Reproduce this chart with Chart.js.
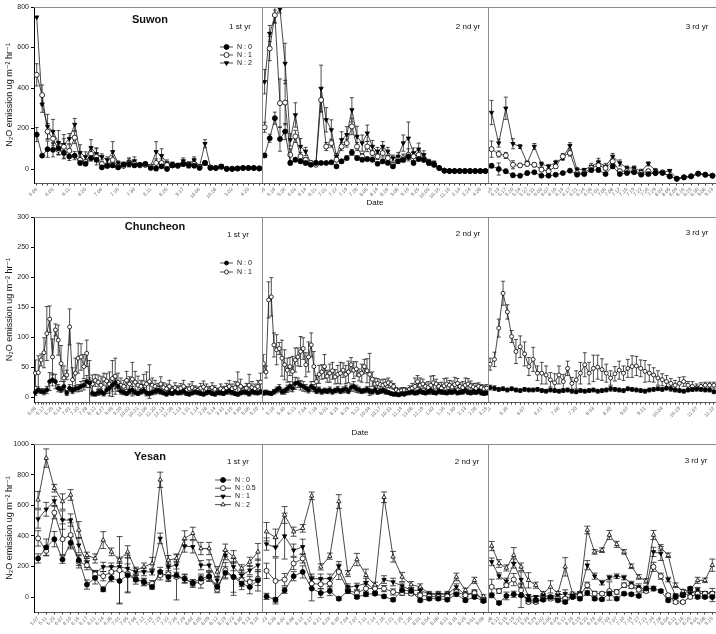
<!DOCTYPE html>
<html>
<head>
<meta charset="utf-8">
<script src="https://cdn.jsdelivr.net/npm/chart.js@4.4.0/dist/chart.umd.min.js"></script>
<style>
  body { margin: 0; background: #fff; }
  #wrap { position: relative; width: 716px; height: 634px; overflow: hidden; }
  canvas { position: absolute; }
</style>
</head>
<body>
<div id="wrap"></div>
<script>
// ---- Suwon (3 treatments) ----
var suwon1Dates = ['5.06','6.03','6.11','6.20','7.06','7.16','7.30','8.11','8.25','9.17','10.06','10.28','3.02','4.20'];
var suwon1N0 = [170,66,98,95,103,79,62,66,30,26, 54,46,8,16,18,8,21,25,18,21, 25,5,2,13,0,18,18,25,18,16, 5,30,5,5,13,0,0,2,5,5, 5,3];
var suwon1N1 = [465,365,185,150,95,110,90,155,45,35, 75,60,25,15,45,12,15,30,25,18, 20,12,30,30,20,18,15,25,20,25, 10,30,8,5,10,2,2,3,5,5, 5,3];
var suwon1N2 = [750,320,210,185,130,120,150,220,80,60, 105,75,60,45,85,30,25,35,40,20, 25,15,85,65,30,25,20,40,25,45, 15,125,10,5,15,2,2,3,5,5, 5,3];
var suwon1N0err = [35,0,40,35,30,25,20,20,10,10, 15,10,5,5,10,5,5,10,5,5, 5,3,10,5,5,5,5,5,5,5, 3,5,3,3,3,0,0,0,0,0, 0,0];
var suwon1N1err = [55,50,40,35,25,60,30,30,15,10, 20,40,10,5,20,5,5,20,10,5, 5,5,20,20,10,10,5,10,15,15, 5,10,3,3,5,0,0,0,0,0, 0,0];
var suwon1N2err = [0,40,60,60,60,30,25,30,40,25, 40,30,15,15,50,10,10,20,20,5, 10,5,50,35,15,10,5,15,10,15, 5,20,5,3,5,0,0,0,0,0, 0,0];

var suwon2Dates = ['5.06','5.16','5.26','6.03','6.14','6.21','7.01','7.12','7.19','7.28','8.05','8.14','8.26','9.06','9.16','9.25','10.03','10.16','11.15','2.14','3.24','4.28'];
var suwon2N0 = [67,152,251,148,185,30,46,38,30,21, 30,30,30,33,13,38,54,82,54,46, 49,46,26,38,30,13,38,46,62,30, 49,46,30,21,5,-8,-10,-10,-10,-10, -10,-10,-10,-10];
var suwon2N1 = [206,595,760,325,328,70,161,62,46,30, 21,341,111,128,46,111,128,210,111,62, 111,79,62,79,54,21,46,54,70,62, 70,49,30,21,5,-8,-10,-10,-10,-10, -10,-10,-10,-10];
var suwon2N2 = [431,669,755,790,521,144,267,111,87,30, 30,398,243,193,62,144,169,292,161,128, 177,111,87,111,87,54,62,128,152,79, 98,70,38,30,5,-8,-10,-10,-10,-10, -10,-10,-10,-10];
var suwon2N0err = [10,20,30,60,40,10,10,10,10,5, 5,5,5,5,5,10,10,15,10,10, 10,10,5,10,5,5,10,10,15,10, 10,10,5,5,3,3,3,3,3,3, 3,3,3,3];
var suwon2N1err = [25,60,40,120,110,30,30,20,10,10, 5,60,20,20,10,20,20,40,20,15, 25,15,15,20,15,5,15,20,30,20, 20,15,10,5,3,3,3,3,3,3, 3,3,3,3];
var suwon2N2err = [60,40,30,20,100,30,60,40,20,10, 10,115,60,50,15,40,40,60,50,40, 40,30,20,25,20,15,20,40,80,25, 30,20,10,10,5,3,3,3,3,3, 3,3,3,3];

var suwon3Dates = ['5.10','5.13','5.17','5.20','5.24','5.27','5.31','6.03','6.07','6.10','6.14','6.17','6.21','6.24','6.28','7.01','7.05','7.08','7.12','7.15','7.19','7.22','7.26','7.29','8.02','8.05','8.09','8.16','8.23','8.30','9.06','9.13'];
var suwon3N0 = [16,0,-11,-31,-33,-20,-16,-33,-33,-28, -20,-8,-28,-25,-5,-5,-25,13,-25,-20, -16,-28,-25,-20,-20,-36,-48,-41,-36,-23, -28,-33];
var suwon3N1 = [98,74,67,21,18,25,21,-3,-11,13, 62,79,-20,-20,5,18,5,38,-11,-11, -11,-20,-11,-20,-16,-36,-48,-41,-36,-23, -28,-33];
var suwon3N2 = [279,128,300,125,111,30,111,25,13,33, 54,115,-3,-3,13,33,13,62,30,5, 5,-11,26,-7,-16,-8,-48,-41,-36,-23, -28,-33];
var suwon3N0err = [10,30,10,10,5,10,5,5,5,5, 5,5,5,5,10,10,5,10,5,5, 5,5,5,5,5,5,5,5,5,5, 5,5];
var suwon3N1err = [40,15,15,20,10,10,10,10,10,10, 15,15,5,5,10,25,10,10,10,10, 10,5,10,5,5,5,5,5,5,5, 5,5];
var suwon3N2err = [60,20,55,25,10,10,15,10,10,10, 10,15,10,5,15,20,15,15,15,10, 10,10,10,10,5,5,5,5,5,5, 5,5];

// ---- Chuncheon (2 treatments) ----
var chun1Dates = ['5.08','5.17','5.25','6.14','7.01','7.10','7.28','8.12','8.27','9.05','9.20','10.02','10.21','11.06','11.20','12.13','12.28','1.13','1.31','2.14','2.28','3.14','3.31','4.15','4.30','5.06','5.20'];
var chun1N0 = [8,12,10,9,12,26,29,26,15,13, 18,7,15,11,14,15,18,20,26,24, 6,5,8,9,6,12,15,20,24,18, 10,8,6,10,12,8,6,9,11,7, 6,8,10,12,9,7,5,8,6,9, 7,8,10,6,5,7,9,8,6,5, 7,9,6,5,8,7,6,9,10,8, 6,5,7,9,8,6,10,8,7,9];
var chun1N1 = [40,41,62,74,106,130,67,112,95,56, 32,37,117,29,40,65,67,51,73,26, 22,28,25,20,30,27,22,31,35,25, 20,18,28,22,30,25,20,18,24,22, 26,20,18,15,22,16,14,18,12,16, 13,15,18,12,14,16,13,11,15,17, 14,12,16,13,10,14,12,15,18,14, 16,22,18,12,15,20,16,14,18,25];
var chun1N0err = [5,5,4,5,6,15,10,12,6,5, 8,4,6,5,5,6,8,8,10,8, 4,3,5,5,4,6,8,10,10,8, 5,4,3,5,6,4,3,4,5,3, 3,4,5,6,4,3,3,4,3,4, 3,4,5,3,3,3,4,4,3,3, 3,4,3,3,4,3,3,4,5,4, 3,3,3,4,4,3,5,4,3,4];
var chun1N1err = [22,28,10,25,45,22,30,10,25,30, 20,8,30,20,25,25,22,20,22,35, 15,10,12,15,10,12,20,30,30,15, 12,10,15,12,28,18,15,10,14,20, 28,12,10,8,12,8,8,10,6,8, 6,8,10,6,8,10,6,6,8,10, 8,6,8,6,5,8,6,8,10,8, 10,20,12,6,8,18,10,8,10,15];

var chun2Dates = ['5.03','5.16','5.30','6.13','7.04','7.18','8.01','8.15','8.29','9.12','10.04','10.17','10.31','11.14','12.08','12.19','1.02','1.16','1.30','2.13','2.28','3.15'];
var chun2N0 = [7,8,7,6,9,12,15,9,10,14, 18,15,23,24,20,18,15,12,18,15, 10,12,9,11,10,12,9,11,13,10, 12,14,10,16,18,14,12,10,11,13, 10,9,12,8,10,11,9,8,6,5, 5,4,6,5,7,8,9,7,8,10, 8,7,9,11,8,7,10,9,8,7, 9,8,10,7,8,9,11,8,7,9, 8,10,7,6,7];
var chun2N1 = [56,42,162,167,87,79,81,65,54,45, 51,43,62,67,76,81,54,67,87,51, 26,38,42,51,35,40,44,34,38,40, 45,38,42,54,45,47,37,40,51,44, 38,30,22,23,21,20,22,24,21,18, 12,10,11,12,10,13,15,18,26,20, 22,18,16,20,24,22,18,15,19,22, 20,17,21,23,18,16,20,22,19,17, 15,18,16,14,15];
var chun2N0err = [4,4,3,3,4,5,6,4,5,6, 8,6,10,8,8,8,6,5,8,6, 4,5,4,4,4,5,4,4,5,4, 5,6,4,6,8,6,5,4,4,5, 4,4,5,3,4,4,4,3,3,3, 3,3,3,3,3,4,4,3,4,4, 3,3,4,4,3,3,4,4,3,3, 4,3,4,3,3,4,4,3,3,4, 3,4,3,3,3];
var chun2N1err = [15,10,30,32,20,25,10,30,25,20, 15,25,20,15,25,18,20,25,20,25, 10,15,12,20,10,15,14,12,15,18, 12,15,18,12,14,12,10,15,12,20, 35,12,10,8,8,10,8,8,6,5, 4,4,5,4,5,6,8,14,10,12, 8,6,10,15,12,8,6,10,12,10, 8,10,12,8,6,10,12,9,8,6, 8,6,5,6,6];

var chun3Dates = ['5.11','5.26','6.07','6.21','7.06','7.20','8.03','8.20','9.07','9.21','10.04','10.19','11.07','11.22'];
var chun3N0 = [16,15,13,14,12,14,12,11,13,12, 12,13,11,10,12,11,10,11,12,10, 9,11,10,11,12,10,11,12,14,13, 12,11,14,13,12,11,10,12,13,14, 13,15,14,12,11,10,12,13,14,13, 12,12,9];
var chun3N1 = [55,63,115,173,142,101,76,84,72,51, 63,40,40,37,29,24,37,26,48,23, 29,40,54,40,48,50,46,40,32,39, 45,40,48,51,52,48,43,40,37,32, 29,26,23,20,23,26,20,18,16,18, 20,20,20];
var chun3N0err = [4,4,3,3,3,3,3,3,3,3, 3,3,3,3,3,3,3,3,3,3, 3,3,3,3,3,3,3,3,4,3, 3,3,3,3,3,3,3,3,3,3, 3,3,4,3,3,3,3,3,3,3, 3,3,3];
var chun3N1err = [10,12,15,20,12,10,20,18,20,15, 20,12,18,15,12,15,15,12,12,10, 15,18,20,18,22,20,18,15,12,12, 15,12,15,18,16,14,18,14,12,12, 10,10,8,8,10,8,6,8,6,6, 5,5,5];

// ---- Yesan (4 treatments) ----
var yesan1Dates = ['5.07','5.11','5.23','6.07','6.10','6.15','6.17','6.21','6.24','6.28','7.01','7.05','7.08','7.12','7.15','7.19','7.22','7.26','7.29','8.02','8.05','8.09','8.12','8.19','8.23','8.30','9.13','9.16'];
var yesan1N0 = [252,324,378,245,354,241,81,125,50,125, 105,142,114,98,66,164,131,142,120,92, 120,136,66,158,131,88,66,109];
var yesan1N05 = [383,302,551,378,405,230,208,149,136,164, 175,153,120,98,88,142,149,131,120,88, 98,131,48,175,131,109,98,120];
var yesan1N1 = [510,573,628,503,503,339,223,153,197,197, 197,186,164,164,164,383,197,208,333,328, 208,208,109,273,197,142,175,208];
var yesan1N2 = [635,908,711,624,667,438,273,252,372,295, 241,295,175,197,219,766,241,252,383,416, 317,317,164,306,263,186,230,295];
var yesan1N0err = [30,55,50,25,40,35,30,40,15,25, 145,115,30,20,15,30,30,20,25,20, 30,30,25,40,120,40,45,70];
var yesan1N05err = [50,30,40,100,80,40,30,25,30,35, 220,120,20,25,20,30,40,150,30,25, 40,30,20,50,100,40,35,45];
var yesan1N1err = [60,45,30,60,40,50,30,20,30,25, 25,30,20,25,20,35,25,25,40,40, 30,35,25,30,25,30,30,40];
var yesan1N2err = [55,60,25,50,35,55,20,30,55,25, 20,40,20,25,40,50,30,25,50,40, 40,40,35,40,40,25,30,55];

var yesan2Dates = ['5.23','5.28','6.02','6.08','6.12','6.17','6.21','6.26','6.30','7.04','7.07','7.11','7.14','7.18','7.21','7.25','7.28','8.01','8.04','8.08','8.11','8.18','8.25','9.01','9.08'];
var yesan2N0 = [4,-18,44,136,164,55,26,39,-11,39, 0,18,22,4,-18,44,39,-22,-11,-11, -18,18,-22,0,-26];
var yesan2N05 = [171,105,114,219,252,88,83,88,164,44, 26,55,55,55,33,26,22,11,4,0, 4,33,11,26,-22];
var yesan2N1 = [346,324,398,306,328,120,120,120,201,66, 70,92,44,114,98,72,44,44,18,18, 18,66,11,33,-18];
var yesan2N2 = [427,389,536,427,449,661,197,267,624,153, 245,142,77,652,263,131,81,66,22,22, 22,131,44,109,4];
var yesan2N0err = [20,15,20,30,40,80,30,30,10,15, 10,15,10,10,10,20,20,10,10,10, 10,10,10,10,10];
var yesan2N05err = [50,150,40,40,30,30,30,30,50,20, 15,25,20,20,20,15,10,10,10,10, 10,15,10,10,10];
var yesan2N1err = [40,60,150,40,50,30,30,30,30,20, 20,30,15,25,25,20,15,15,10,10, 10,20,10,15,10];
var yesan2N2err = [60,55,55,30,25,25,20,20,45,20, 40,40,20,35,35,30,20,20,15,15, 15,25,15,20,10];

var yesan3Dates = ['5.08','5.12','5.15','5.19','5.22','5.26','5.29','6.02','6.05','6.09','6.12','6.16','6.19','6.23','6.26','6.30','7.03','7.07','7.10','7.14','7.17','7.21','7.24','7.28','8.04','8.11','8.18','8.25','9.01','9.08','9.15'];
var yesan3N0 = [11,-39,7,18,11,-18,-22,-18,0,-22, -33,0,-11,26,-11,-15,22,-11,22,18, 7,55,55,39,-22,0,11,55,0,0, 0];
var yesan3N05 = [66,39,77,114,44,-33,-33,-11,-11,-11, -11,0,11,77,22,22,39,33,77,70, 48,39,197,136,11,-33,-33,0,22,22, 22];
var yesan3N1 = [230,138,103,219,114,7,0,11,0,11, 22,11,22,208,136,94,127,136,127,88, 66,44,295,284,114,11,15,22,48,26, 26];
var yesan3N2 = [333,219,190,273,197,109,77,22,66,26, 197,22,26,438,295,306,405,344,295,201, 131,105,405,322,273,77,39,48,109,109, 208];
var yesan3N0err = [15,10,25,20,80,10,10,10,10,10, 10,10,10,15,10,10,10,10,10,10, 10,15,15,10,10,10,10,10,10,10, 30];
var yesan3N05err = [50,15,15,40,40,10,10,10,10,10, 10,10,10,20,15,10,60,15,15,15, 15,10,30,20,10,10,10,10,10,10, 10];
var yesan3N1err = [25,20,20,30,50,10,10,10,10,10, 25,10,10,30,20,15,15,15,15,15, 20,15,30,45,15,10,10,10,15,10, 30];
var yesan3N2err = [30,25,20,50,25,50,20,15,40,10, 60,10,10,25,15,15,30,20,15,15, 15,15,30,20,15,15,10,15,20,15, 40];

var suwonTicks = [0, 200, 400, 600, 800];
var chunTicks = [0, 50, 100, 150, 200, 250, 300];
var yesanTicks = [0, 200, 400, 600, 800, 1000];
var yTitle = 'N\u2082O emission ug m\u207B\u00B2 hr\u207B\u00B9';

Chart.defaults.font.family = '"Liberation Sans", Arial, "DejaVu Sans", sans-serif';
Chart.defaults.color = '#222';

// marker looks
var dot = { style: 'circle', fill: '#000', rot: 0 };
var ring = { style: 'circle', fill: '#fff', rot: 0 };
var downTri = { style: 'triangle', fill: '#000', rot: 180 };
var upTri = { style: 'triangle', fill: '#fff', rot: 0 };

// error bars drawn behind lines/markers
var errorBars = {
  id: 'errorBars',
  beforeDatasetsDraw(chart) {
    var ctx = chart.ctx, a = chart.chartArea, y = chart.scales.y;
    var cap = chart.canvas.decor.cap;
    ctx.save();
    ctx.beginPath();
    ctx.rect(a.left, a.top, a.right - a.left, a.bottom - a.top);
    ctx.clip();
    ctx.strokeStyle = '#222';
    ctx.lineWidth = 0.8;
    chart.data.datasets.forEach(function (ds, k) {
      if (!ds.errors) return;
      var meta = chart.getDatasetMeta(k);
      meta.data.forEach(function (pt, i) {
        var e = ds.errors[i];
        if (!e) return;
        var v = ds.data[i];
        var y1 = y.getPixelForValue(v + e), y2 = y.getPixelForValue(v - e);
        ctx.beginPath();
        ctx.moveTo(pt.x, y1); ctx.lineTo(pt.x, y2);
        ctx.moveTo(pt.x - cap, y1); ctx.lineTo(pt.x + cap, y1);
        ctx.moveTo(pt.x - cap, y2); ctx.lineTo(pt.x + cap, y2);
        ctx.stroke();
      });
    });
    ctx.restore();
  }
};

// frame lines, panel texts and the in-plot legend
var frame = {
  id: 'frame',
  afterDraw(chart) {
    var ctx = chart.ctx, a = chart.chartArea, d = chart.canvas.decor;
    ctx.save();
    ctx.strokeStyle = '#8c8c8c';
    ctx.lineWidth = 1;
    ctx.beginPath();
    ctx.moveTo(a.left, a.top + 0.5); ctx.lineTo(a.right, a.top + 0.5);
    if (d.divider) { ctx.moveTo(a.left + 0.5, a.top); ctx.lineTo(a.left + 0.5, a.bottom); }
    ctx.stroke();

    ctx.textBaseline = 'middle';
    ctx.fillStyle = '#111';
    d.texts.forEach(function (t) {
      ctx.font = t.font;
      ctx.textAlign = 'center';
      ctx.fillText(t.text, t.x, t.y);
    });

    if (d.legend) {
      var L = d.legend;
      chart.data.datasets.forEach(function (ds, k) {
        var yy = L.y + k * L.dy;
        ctx.strokeStyle = '#222';
        ctx.lineWidth = 0.8;
        ctx.beginPath(); ctx.moveTo(L.x1, yy); ctx.lineTo(L.x2, yy); ctx.stroke();
        ctx.fillStyle = ds.pointBackgroundColor;
        ctx.strokeStyle = '#000';
        Chart.helpers.drawPoint(ctx, { pointStyle: ds.pointStyle, radius: ds.pointRadius, rotation: ds.pointRotation, borderWidth: 0.8 }, (L.x1 + L.x2) / 2, yy);
        ctx.fillStyle = '#111';
        ctx.font = '7px "Liberation Sans", Arial, sans-serif';
        ctx.textAlign = 'left';
        ctx.fillText(ds.label, L.tx, yy);
      });
    }
    ctx.restore();
  }
};

function makePanel(p) {
  var c = document.createElement('canvas');
  c.width = p.w; c.height = p.h;
  c.style.left = p.x + 'px';
  c.style.top = p.top + 'px';
  c.decor = { cap: p.cap, divider: !p.first, texts: p.texts || [], legend: p.legend };
  document.getElementById('wrap').appendChild(c);

  var n = p.series[0].data.length;
  var labels = [];
  for (var i = 0; i < n; i++) labels.push(i % p.every === 0 ? (p.dates[i / p.every] || '') : '');

  var datasets = p.series.map(function (s) {
    return {
      label: s.label, data: s.data, errors: s.err,
      borderColor: '#1a1a1a', borderWidth: 0.8, tension: 0,
      pointStyle: s.mk.style, pointRotation: s.mk.rot, pointRadius: p.r,
      pointBackgroundColor: s.mk.fill, pointBorderColor: '#000', pointBorderWidth: 0.8
    };
  });

  new Chart(c, {
    type: 'line',
    data: { labels: labels, datasets: datasets },
    options: {
      responsive: false,
      animation: false,
      layout: { autoPadding: false, padding: { top: 7, left: 0, right: 0, bottom: 0 } },
      plugins: { legend: { display: false }, tooltip: { enabled: false } },
      scales: {
        x: {
          offset: true,
          afterFit: function (s) { s.height = p.axisH; s.paddingLeft = 0; s.paddingRight = 0; },
          grid: { drawOnChartArea: false, tickLength: 2.5, color: '#444' },
          border: { color: '#555', width: 1 },
          ticks: { autoSkip: false, minRotation: 45, maxRotation: 45, font: { size: 5 }, color: '#666', padding: 1 }
        },
        y: {
          display: p.first,
          min: p.yMin, max: p.yMax,
          afterBuildTicks: function (s) { s.ticks = p.yTicks.map(function (v) { return { value: v }; }); },
          afterFit: function (s) { s.width = p.first ? 34 : 0; s.paddingTop = 0; s.paddingBottom = 0; },
          grid: { drawOnChartArea: false, tickLength: 3, color: '#000' },
          border: { color: '#000', width: 1 },
          ticks: { font: { size: 7 }, color: '#222', padding: 2, callback: function (v) { return String(v); } },
          title: { display: true, text: yTitle, font: { size: 9 }, color: '#111', padding: { top: 4, bottom: 0 } }
        }
      }
    },
    plugins: [errorBars, frame]
  });
}

var titleFont = 'bold 11px "Liberation Sans", Arial, sans-serif';
var yrFont = '8px "Liberation Sans", Arial, sans-serif';

// row 1: Suwon
var r1 = { top: 0, h: 215, axisH: 32, yMin: -69, yMax: 800, yTicks: suwonTicks, r: 2.5, cap: 2 };
makePanel(Object.assign({}, r1, { x: 0, w: 262, first: true, dates: suwon1Dates, every: 3,
  series: [{ label: 'N : 0', data: suwon1N0, err: suwon1N0err, mk: dot },
           { label: 'N : 1', data: suwon1N1, err: suwon1N1err, mk: ring },
           { label: 'N : 2', data: suwon1N2, err: suwon1N2err, mk: downTri }],
  texts: [{ text: 'Suwon', x: 150, y: 20, font: titleFont }, { text: '1 st yr', x: 240, y: 27, font: yrFont }],
  legend: { x1: 220, x2: 233, tx: 237, y: 47, dy: 8 } }));
makePanel(Object.assign({}, r1, { x: 262, w: 226, first: false, dates: suwon2Dates, every: 2,
  series: [{ label: 'N : 0', data: suwon2N0, err: suwon2N0err, mk: dot },
           { label: 'N : 1', data: suwon2N1, err: suwon2N1err, mk: ring },
           { label: 'N : 2', data: suwon2N2, err: suwon2N2err, mk: downTri }],
  texts: [{ text: '2 nd yr', x: 206, y: 27, font: yrFont }, { text: 'Date', x: 113, y: 203, font: yrFont }] }));
makePanel(Object.assign({}, r1, { x: 488, w: 228, first: false, dates: suwon3Dates, every: 1,
  series: [{ label: 'N : 0', data: suwon3N0, err: suwon3N0err, mk: dot },
           { label: 'N : 1', data: suwon3N1, err: suwon3N1err, mk: ring },
           { label: 'N : 2', data: suwon3N2, err: suwon3N2err, mk: downTri }],
  texts: [{ text: '3 rd yr', x: 209, y: 27, font: yrFont }] }));

// row 2: Chuncheon
var r2 = { top: 210, h: 230, axisH: 38, yMin: -8, yMax: 300, yTicks: chunTicks, r: 2, cap: 2 };
makePanel(Object.assign({}, r2, { x: 0, w: 262, first: true, dates: chun1Dates, every: 3,
  series: [{ label: 'N : 0', data: chun1N0, err: chun1N0err, mk: dot },
           { label: 'N : 1', data: chun1N1, err: chun1N1err, mk: ring }],
  texts: [{ text: 'Chuncheon', x: 155, y: 17, font: titleFont }, { text: '1 st yr', x: 238, y: 25, font: yrFont }],
  legend: { x1: 220, x2: 233, tx: 237, y: 53, dy: 9 } }));
makePanel(Object.assign({}, r2, { x: 262, w: 226, first: false, dates: chun2Dates, every: 4,
  series: [{ label: 'N : 0', data: chun2N0, err: chun2N0err, mk: dot },
           { label: 'N : 1', data: chun2N1, err: chun2N1err, mk: ring }],
  texts: [{ text: '2 nd yr', x: 206, y: 24, font: yrFont }, { text: 'Date', x: 98, y: 223, font: yrFont }] }));
makePanel(Object.assign({}, r2, { x: 488, w: 228, first: false, dates: chun3Dates, every: 4,
  series: [{ label: 'N : 0', data: chun3N0, err: chun3N0err, mk: dot },
           { label: 'N : 1', data: chun3N1, err: chun3N1err, mk: ring }],
  texts: [{ text: '3 rd yr', x: 209, y: 23, font: yrFont }] }));

// row 3: Yesan
var r3 = { top: 437, h: 197, axisH: 22, yMin: -98, yMax: 1000, yTicks: yesanTicks, r: 2.5, cap: 3 };
makePanel(Object.assign({}, r3, { x: 0, w: 262, first: true, dates: yesan1Dates, every: 1,
  series: [{ label: 'N : 0', data: yesan1N0, err: yesan1N0err, mk: dot },
           { label: 'N : 0.5', data: yesan1N05, err: yesan1N05err, mk: ring },
           { label: 'N : 1', data: yesan1N1, err: yesan1N1err, mk: downTri },
           { label: 'N : 2', data: yesan1N2, err: yesan1N2err, mk: upTri }],
  texts: [{ text: 'Yesan', x: 150, y: 20, font: titleFont }, { text: '1 st yr', x: 238, y: 25, font: yrFont }],
  legend: { x1: 215, x2: 231, tx: 235, y: 43, dy: 8.2 } }));
makePanel(Object.assign({}, r3, { x: 262, w: 226, first: false, dates: yesan2Dates, every: 1,
  series: [{ label: 'N : 0', data: yesan2N0, err: yesan2N0err, mk: dot },
           { label: 'N : 0.5', data: yesan2N05, err: yesan2N05err, mk: ring },
           { label: 'N : 1', data: yesan2N1, err: yesan2N1err, mk: downTri },
           { label: 'N : 2', data: yesan2N2, err: yesan2N2err, mk: upTri }],
  texts: [{ text: '2 nd yr', x: 205, y: 25, font: yrFont }] }));
makePanel(Object.assign({}, r3, { x: 488, w: 228, first: false, dates: yesan3Dates, every: 1,
  series: [{ label: 'N : 0', data: yesan3N0, err: yesan3N0err, mk: dot },
           { label: 'N : 0.5', data: yesan3N05, err: yesan3N05err, mk: ring },
           { label: 'N : 1', data: yesan3N1, err: yesan3N1err, mk: downTri },
           { label: 'N : 2', data: yesan3N2, err: yesan3N2err, mk: upTri }],
  texts: [{ text: '3 rd yr', x: 208, y: 24, font: yrFont }] }));
</script>
</body>
</html>
